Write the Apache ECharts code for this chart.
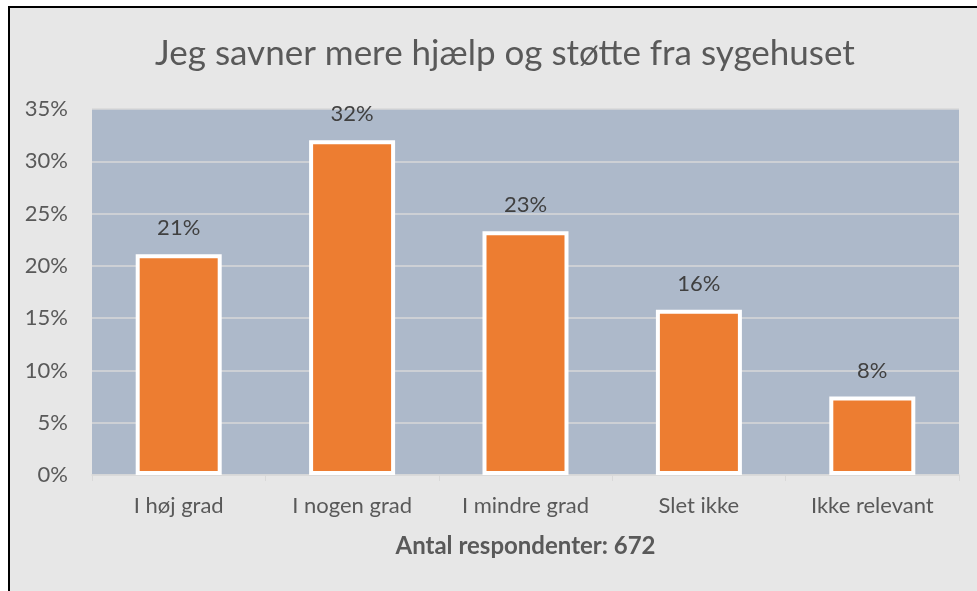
<!DOCTYPE html>
<html>
<head>
<meta charset="utf-8">
<script src="https://cdn.jsdelivr.net/npm/echarts@6/dist/echarts.min.js"></script>
<style>
html,body{margin:0;padding:0;background:#ffffff;}
#chart{width:977px;height:591px;}
</style>
</head>
<body>
<div id="chart"></div>
<script>
const titleText = 'Jeg savner mere hjælp og støtte fra sygehuset';
const categories = ['I høj grad', 'I nogen grad', 'I mindre grad', 'Slet ikke', 'Ikke relevant'];
const values = [21.1, 32.0, 23.3, 15.8, 7.5];
const axisTitle = 'Antal respondenter: 672';
const yMin = 0, yMax = 35, yStep = 5;

const FONT = 'Lato, "Open Sans", sans-serif';
const chart = echarts.init(document.getElementById('chart'), null, {renderer: 'canvas'});
chart.setOption({
  backgroundColor: '#ffffff',
  animation: false,
  graphic: [{
    type: 'rect', z: -10, silent: true,
    shape: {x: 9, y: 7, width: 1100, height: 700},
    style: {fill: '#e7e7e7', stroke: '#000000', lineWidth: 2}
  }],
  title: {
    text: titleText, left: 500, textAlign: 'center', top: 31,
    textStyle: {fontFamily: FONT, fontSize: 35, fontWeight: 'normal', color: '#595959'}
  },
  grid: {left: 92, right: 18, top: 109, bottom: 116, show: true, backgroundColor: '#adb9ca', borderWidth: 0},
  xAxis: {
    type: 'category', data: categories,
    name: axisTitle, nameLocation: 'middle', nameGap: 59,
    nameTextStyle: {fontFamily: FONT, fontSize: 24, fontWeight: 'bold', color: '#595959', verticalAlign: 'top'},
    axisLine: {show: true, lineStyle: {color: '#d9d9d9', width: 1.5}},
    axisTick: {show: true, length: 6, lineStyle: {color: '#d9d9d9', width: 1}},
    axisLabel: {fontFamily: FONT, fontSize: 22, color: '#595959', margin: 20}
  },
  yAxis: {
    type: 'value', min: yMin, max: yMax, interval: yStep,
    axisLine: {show: false}, axisTick: {show: false},
    splitLine: {lineStyle: {color: '#d9d9d9', width: 1.5}},
    axisLabel: {fontFamily: FONT, fontSize: 22, color: '#595959', margin: 24, formatter: v => v + '%'}
  },
  series: [{
    type: 'bar', data: values, barWidth: 86,
    itemStyle: {color: '#ed7d31', borderColor: '#ffffff', borderWidth: 4},
    label: {
      show: true, position: 'top', distance: 15,
      fontFamily: FONT, fontSize: 22, color: '#404040',
      formatter: p => Math.round(p.value) + '%'
    }
  }]
});
</script>
</body>
</html>
